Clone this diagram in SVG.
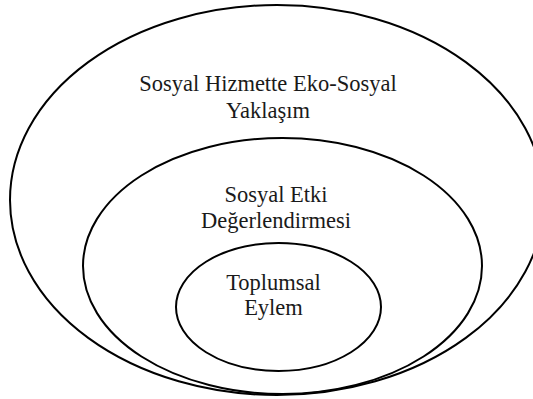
<svg xmlns="http://www.w3.org/2000/svg" width="533" height="399" viewBox="0 0 533 399">
<style>
.e{fill:none;stroke:#000;stroke-width:2}
.t{font-family:"Liberation Serif","Times New Roman",serif;font-size:22.5px;fill:#1a1a1a;text-anchor:middle}
</style>
<rect width="533" height="399" fill="#fff"/>
<g id="outer">
<ellipse class="e" cx="277" cy="200" rx="267" ry="195"/>
<text class="t" x="268" y="91">Sosyal Hizmette Eko-Sosyal</text>
<text class="t" x="268" y="118">Yaklaşım</text>
</g>
<g id="middle">
<ellipse class="e" cx="282.5" cy="266" rx="199.5" ry="128"/>
<text class="t" x="276" y="202">Sosyal Etki</text>
<text class="t" x="276" y="228">Değerlendirmesi</text>
</g>
<g id="inner">
<ellipse class="e" cx="278.5" cy="307" rx="102.5" ry="64"/>
<text class="t" x="273.5" y="290">Toplumsal</text>
<text class="t" x="273.5" y="315">Eylem</text>
</g>
<g id="connectors"/>
</svg>
